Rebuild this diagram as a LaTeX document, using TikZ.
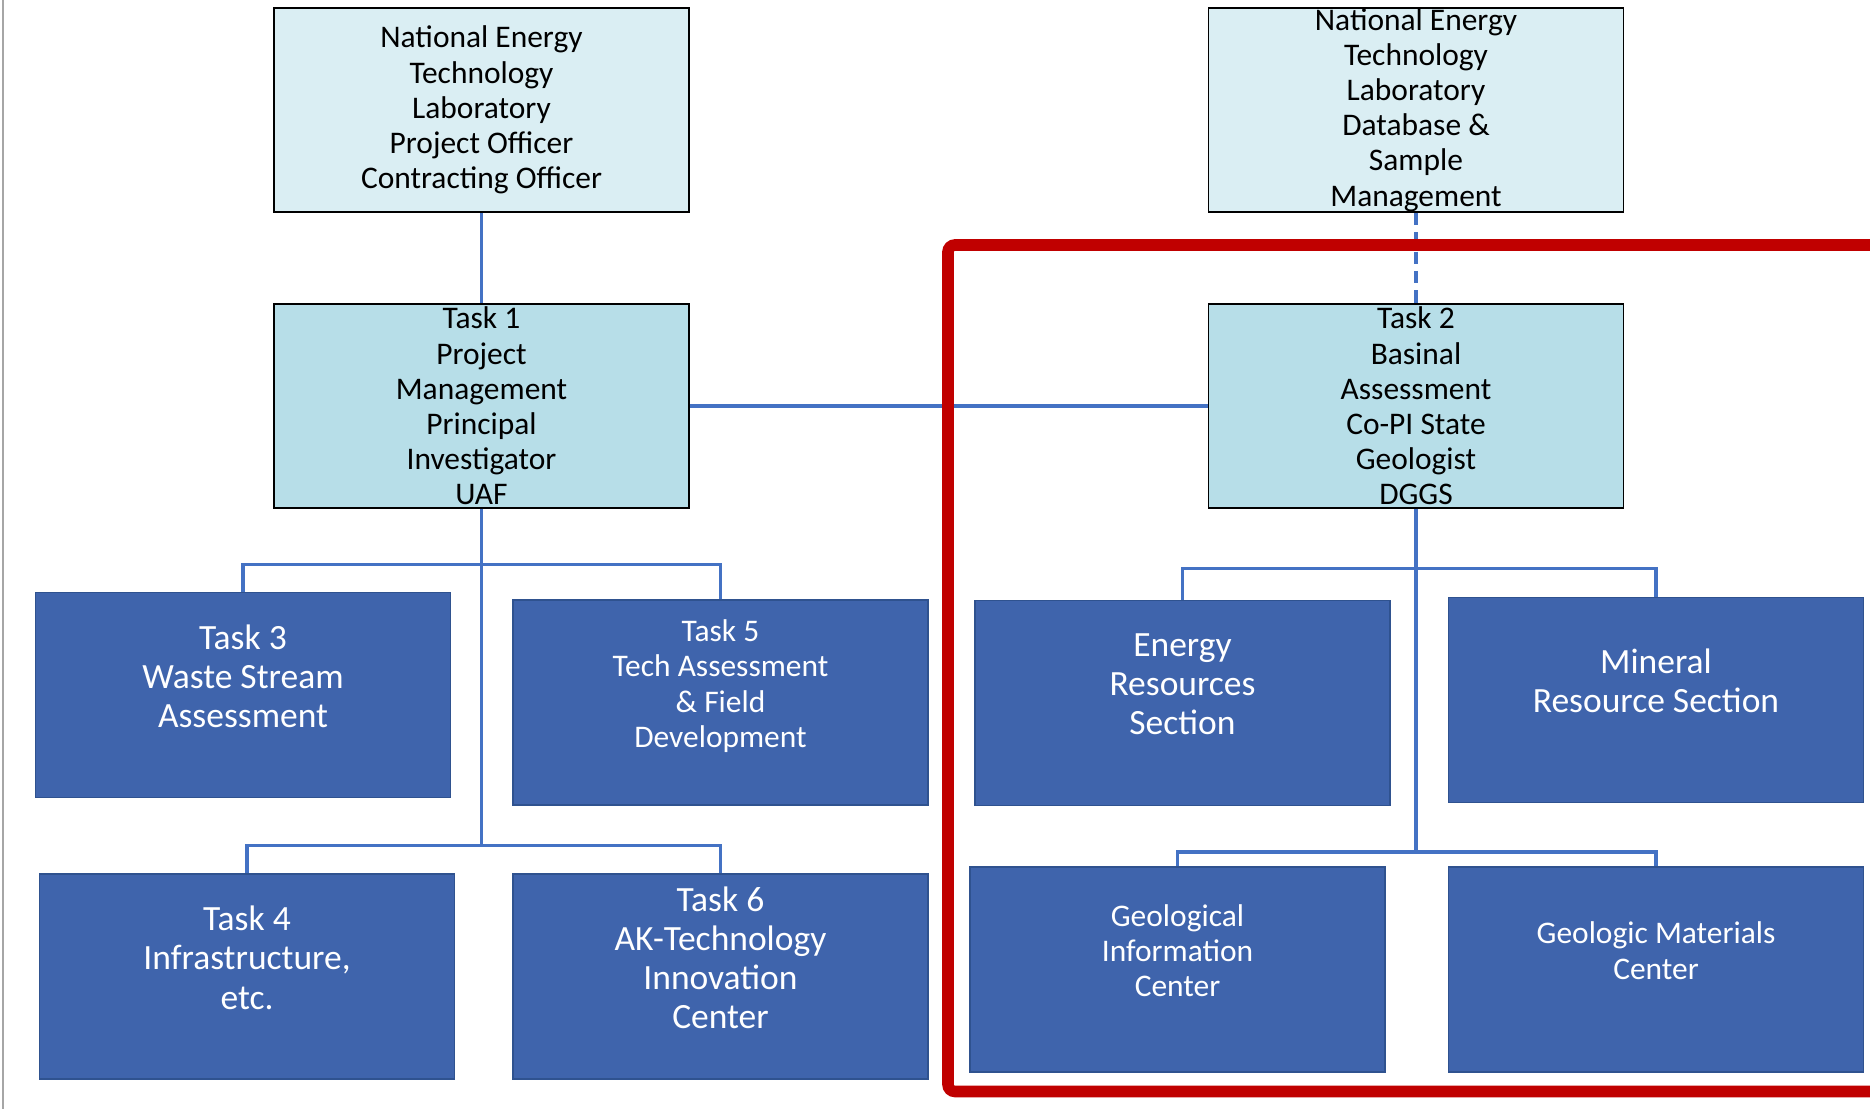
\documentclass[tikz,border=0pt]{standalone}
\usepackage{fontspec}
\setmainfont{Carlito}
\usepackage{tikz}
\usetikzlibrary{positioning}
\definecolor{netlfill}{HTML}{DAEEF3}
\definecolor{taskfill}{HTML}{B7DEE8}
\definecolor{darkfill}{HTML}{3F64AC}
\definecolor{darkline}{HTML}{2F528F}
\definecolor{linkblue}{HTML}{4472C4}
\definecolor{framered}{HTML}{C00000}
\newcommand{\smalltxt}{\fontsize{17.9}{20}\selectfont}
\newcommand{\bigtxt}{\fontsize{20.2}{22.3}\selectfont}

\begin{document}
\begin{tikzpicture}[
  lbox/.style={rectangle, draw=black, line width=1.1pt, minimum width=8.3cm, minimum height=4.08cm, inner ysep=0pt, align=center, fill=#1, text=black, font=\smalltxt},
  dbox/.style={rectangle, draw=darkline, line width=1pt, fill=darkfill, minimum width=8.3cm, minimum height=4.1cm, inner ysep=0pt, align=center, text=white, text depth=21.6pt, font=#1},
  dbox/.default=\bigtxt,
  link/.style={draw=linkblue, line width=2.1pt},
  redframe/.style={draw=framered, line width=6.6pt, rounded corners=4pt}
]
\useasboundingbox (0,0) rectangle (37.4,22.18);
\clip (0,0) rectangle (37.4,22.18);

% Page edge
\draw[gray!70, line width=1.2pt] (0.06,0) -- (0.06,22.18);

% Top row - NETL offices
\node[lbox=netlfill] (netl1) at (9.63,19.98) {National Energy\\Technology\\Laboratory\\Project Officer\\Contracting Officer};
\node[lbox=netlfill] (netl2) at (28.32,19.98) {National Energy\\Technology\\Laboratory\\Database \&\\Sample\\Management};

% Second row - Task 1 and Task 2 leads
\node[lbox=taskfill] (task1) at (9.63,14.06) {Task 1\\Project\\Management\\Principal\\Investigator\\UAF};
\node[lbox=taskfill] (task2) at (28.32,14.06) {Task 2\\Basinal\\Assessment\\Co-PI State\\Geologist\\DGGS};

% Left branch - UAF tasks
\node[dbox] (task3) at (4.86,8.28) {Task 3\\Waste Stream\\Assessment};
\node[dbox=\smalltxt] (task5) at (14.41,8.13) {Task 5\\Tech Assessment\\\& Field\\Development};
\node[dbox] (task4) at (4.94,2.65) {Task 4\\Infrastructure,\\etc.};
\node[dbox] (task6) at (14.41,2.65) {Task 6\\AK-Technology\\Innovation\\Center};

% Right branch - DGGS sections
\node[dbox] (energy) at (23.65,8.12) {Energy\\Resources\\Section};
\node[dbox] (mineral) at (33.12,8.18) {Mineral\\Resource Section};
\node[dbox=\smalltxt] (geoinfo) at (23.55,2.79) {Geological\\Information\\Center};
\node[dbox=\smalltxt] (geomat) at (33.12,2.79) {Geologic Materials\\Center};

% Bus points
\coordinate (busL1) at (9.63,10.89);
\coordinate (busL2) at (9.63,5.27);
\coordinate (busR1) at (28.32,10.81);
\coordinate (busR2) at (28.32,5.14);

% Connectors
\draw[link] (netl1) -- (task1);
\draw[link, dash pattern=on 7pt off 4pt] (netl2) -- (task2);
\draw[link] (task1) -- (task2);
\draw[link] (task1) -- (busL2);
\draw[link] (task3.north) |- (busL1) -| (task5.north);
\draw[link] (task4.north) |- (busL2) -| (task6.north);
\draw[link] (task2) -- (busR2);
\draw[link] (energy.north) |- (busR1) -| (mineral.north);
\draw[link] (geoinfo.north) |- (busR2) -| (geomat.north);

% DGGS frame
\draw[redframe] (37.8,17.28) -- (18.96,17.28) -- (18.96,0.35) -- (37.8,0.35);

\end{tikzpicture}
\end{document}
